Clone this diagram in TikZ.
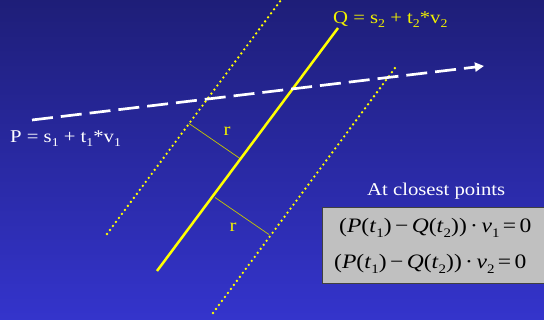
\documentclass[tikz,border=0pt]{standalone}
\usepackage{fontspec}
\setmainfont{Liberation Serif}[FakeStretch=1.15]
\usetikzlibrary{arrows.meta}
\definecolor{bgtop}{HTML}{1E1E78}
\definecolor{bgbot}{HTML}{3434CC}
\definecolor{ylw}{HTML}{FFFF00}
\definecolor{ytxt}{HTML}{F0F000}
\definecolor{ythin}{HTML}{C8C800}
\definecolor{boxgray}{HTML}{C0C0C0}
\definecolor{boxedge}{HTML}{404040}
\newcommand{\lsub}[1]{\raisebox{-4pt}{\fontsize{12}{12}\selectfont #1}}
\newcommand{\esub}[1]{\raisebox{-4.5pt}{\fontsize{13}{13}\selectfont #1}}
\begin{document}
\begin{tikzpicture}[x=1pt,y=-1pt,
  lbl/.style={inner sep=0pt,anchor=base west,font=\fontsize{18}{22}\selectfont},
  eqn/.style={inner sep=0pt,anchor=base west,text=black,font=\fontsize{20.5}{25}\selectfont},
  dotline/.style={ylw,line width=2.6pt,line cap=round,dash pattern=on 0pt off 5pt},
  axis/.style={ylw,line width=2.5pt},
  radius/.style={ythin,line width=0.7pt},
  ray/.style={white,line width=2.7pt,dash pattern=on 21pt off 8pt,-{Triangle[length=9pt,width=9pt]}}]
\shade[top color=bgtop,bottom color=bgbot] (0,0) rectangle (544,320);
\useasboundingbox (0,0) rectangle (544,320);
% coordinates
\coordinate (qa) at (157,271);
\coordinate (qb) at (338,28);
\coordinate (la) at (107,234);
\coordinate (lb) at (281,0);
\coordinate (ra) at (213,313);
\coordinate (rb) at (395,68);
\coordinate (ua) at (189,123.5);
\coordinate (ub) at (240,158.5);
\coordinate (da) at (215,197.5);
\coordinate (db) at (269,234.5);
\coordinate (pa) at (32,120);
\coordinate (pb) at (484,66);
% lines
\draw[dotline] (la) -- (lb);
\draw[dotline] (ra) -- (rb);
\draw[radius] (ua) -- (ub);
\draw[radius] (da) -- (db);
\draw[axis] (qa) -- (qb);
\draw[ray] (pa) -- (pb);
% labels
\node[lbl,text=ytxt] (qlab) at (333,24) {Q = s\lsub{2} + t\lsub{2}*v\lsub{2}};
\node[lbl,text=white] (plab) at (10,143) {P = s\lsub{1} + t\lsub{1}*v\lsub{1}};
\node[inner sep=0pt,text=ytxt,font=\fontsize{18}{22}\selectfont] (r1) at (227,131) {r};
\node[inner sep=0pt,text=ytxt,font=\fontsize{18}{22}\selectfont] (r2) at (233,227) {r};
\node[lbl,text=white] (close) at (367,196) {At closest points};
\node[draw=boxedge,fill=boxgray,line width=0.8pt,minimum width=223pt,minimum height=76pt,inner sep=0pt,anchor=north west] (box) at (322,207) {};
\node[eqn] (eq1) at (339,233) {(\textit{P}(\textit{t}\esub{1})\,−\,\textit{Q}(\textit{t}\esub{2}))\,·\,\textit{v}\esub{1}\,=\,0};
\node[eqn] (eq2) at (334,269) {(\textit{P}(\textit{t}\esub{1})\,−\,\textit{Q}(\textit{t}\esub{2}))\,·\,\textit{v}\esub{2}\,=\,0};
\end{tikzpicture}
\end{document}
